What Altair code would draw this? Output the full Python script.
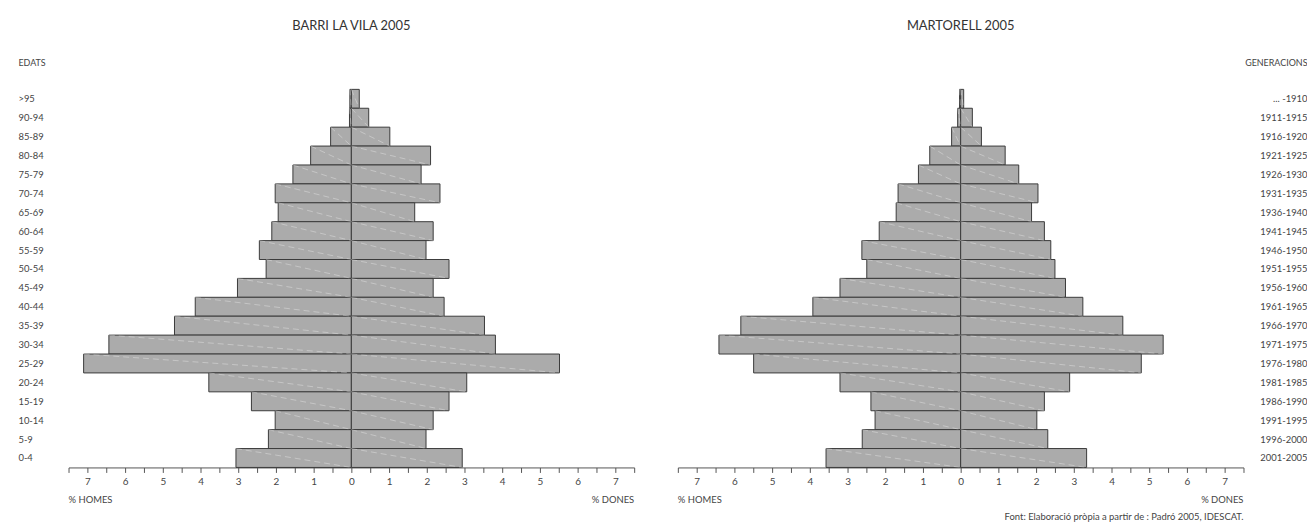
import json
import altair as alt
import pandas as pd

ages = [">95", "90-94", "85-89", "80-84", "75-79", "70-74", "65-69", "60-64", "55-59", "50-54",
        "45-49", "40-44", "35-39", "30-34", "25-29", "20-24", "15-19", "10-14", "5-9", "0-4"]
gens = ["... -1910", "1911-1915", "1916-1920", "1921-1925", "1926-1930", "1931-1935", "1936-1940",
        "1941-1945", "1946-1950", "1951-1955", "1956-1960", "1961-1965", "1966-1970", "1971-1975",
        "1976-1980", "1981-1985", "1986-1990", "1991-1995", "1996-2000", "2001-2005"]

vila_homes = [0.04, 0.05, 0.55, 1.08, 1.55, 2.02, 1.94, 2.11, 2.44, 2.26,
              3.02, 4.14, 4.69, 6.43, 7.10, 3.78, 2.65, 2.02, 2.20, 3.06]
vila_dones = [0.21, 0.46, 1.02, 2.10, 1.85, 2.35, 1.68, 2.17, 1.98, 2.59,
              2.17, 2.46, 3.53, 3.82, 5.52, 3.06, 2.59, 2.17, 1.98, 2.94]
mart_homes = [0.03, 0.08, 0.24, 0.82, 1.12, 1.66, 1.71, 2.16, 2.62, 2.49,
              3.20, 3.92, 5.83, 6.41, 5.49, 3.20, 2.38, 2.27, 2.61, 3.57]
mart_dones = [0.08, 0.31, 0.55, 1.18, 1.54, 2.05, 1.88, 2.22, 2.39, 2.50,
              2.78, 3.24, 4.30, 5.37, 4.79, 2.89, 2.22, 2.02, 2.31, 3.34]

x_ticks = [-7.5 + 0.5 * k for k in range(31)]
FONT = "Lato"
TXT = "#444444"

age_arr = json.dumps(list(reversed(ages)))
gen_arr = json.dumps(list(reversed(gens)))


def frame(homes, dones):
    rows = []
    n = len(ages)
    for i in range(n):
        idx = n - 1 - i
        rows.append({"a": -homes[i], "b": 0.0, "lo": idx, "hi": idx + 1})
        rows.append({"a": 0.0, "b": dones[i], "lo": idx, "hi": idx + 1})
    return pd.DataFrame(rows)


def pyramid(homes, dones, title, side, extra_text=None):
    df = frame(homes, dones)
    xs = alt.Scale(domain=[-7.5, 7.5], nice=False, zero=False)
    ys = alt.Scale(domain=[0, 20], nice=False, zero=False)
    xaxis = alt.Axis(values=x_ticks, tickCount=100,
                     labelExpr="datum.value % 1 == 0 ? abs(datum.value) : ''",
                     labelOverlap=False, grid=False, tickSize=5, tickColor="#555555",
                     domainColor="#555555", labelColor=TXT, labelFont=FONT, labelFontSize=10,
                     labelPadding=4, title=None, labelFlush=False)
    common_y = dict(values=[i + 0.5 for i in range(20)], tickCount=100, labelOverlap=False,
                    ticks=False, tickSize=0, domain=False, grid=False, labelFont=FONT,
                    labelFontSize=9.5, labelColor=TXT, titleAngle=0, titleY=-27,
                    titleBaseline="middle", titleFont=FONT, titleFontSize=9,
                    titleFontWeight="normal", titleColor=TXT)
    if side == "left":
        yaxis = alt.Axis(orient="left", labelExpr=f"{age_arr}[floor(datum.value)]",
                         labelAlign="left", labelPadding=51, title="EDATS",
                         titleAlign="left", titleX=-51, **common_y)
    else:
        yaxis = alt.Axis(orient="right", labelExpr=f"{gen_arr}[floor(datum.value)]",
                         labelAlign="right", labelPadding=64, title="GENERACIONS",
                         titleAlign="right", titleX=64, **common_y)

    bars = alt.Chart(df).mark_rect(fill="#ababab", stroke="#3a3a3a", strokeWidth=1).encode(
        x=alt.X("a:Q", scale=xs, axis=xaxis),
        x2="b:Q",
        y=alt.Y("lo:Q", scale=ys, axis=yaxis),
        y2="hi:Q",
    )
    diag = alt.Chart(df).mark_rule(color="white", opacity=0.4, strokeWidth=0.8,
                                   strokeDash=[6, 4]).encode(
        x="a:Q", x2="b:Q", y="hi:Q", y2="lo:Q"
    )
    lab_df = pd.DataFrame({"x": [-7.5, 7.5], "y": [-1.72, -1.72], "t": ["% HOMES", "% DONES"]})
    lab_l = alt.Chart(lab_df.iloc[[0]]).mark_text(align="left", baseline="middle", font=FONT,
                                                 fontSize=9.5, color=TXT).encode(
        x="x:Q", y="y:Q", text="t:N")
    lab_r = alt.Chart(lab_df.iloc[[1]]).mark_text(align="right", baseline="middle", font=FONT,
                                                 fontSize=9.5, color=TXT).encode(
        x="x:Q", y="y:Q", text="t:N")
    layers = [bars, diag, lab_l, lab_r]
    if extra_text:
        src_df = pd.DataFrame({"x": [7.5], "y": [-2.62], "t": [extra_text]})
        layers.append(alt.Chart(src_df).mark_text(align="right", baseline="middle", font=FONT,
                                                  fontSize=9.5, color=TXT).encode(
            x="x:Q", y="y:Q", text="t:N"))
    return alt.layer(*layers).properties(
        width=570, height=381,
        title=alt.TitleParams(title, font=FONT, fontSize=13, fontWeight="normal",
                              color="#333333", anchor="middle", frame="group", offset=26),
    )


left = pyramid(vila_homes, vila_dones, "BARRI LA VILA 2005", "left")
right = pyramid(mart_homes, mart_dones, "MARTORELL 2005", "right",
                extra_text="Font: Elaboració pròpia a partir de : Padró 2005, IDESCAT.")

chart = alt.hconcat(left, right, spacing=42).properties(
    padding={"left": 10, "top": 10, "right": 0, "bottom": 0},
    background="white",
).configure_view(strokeWidth=0, stroke="transparent")

chart.save("out.html", embed_options={"renderer": "svg", "actions": False})
